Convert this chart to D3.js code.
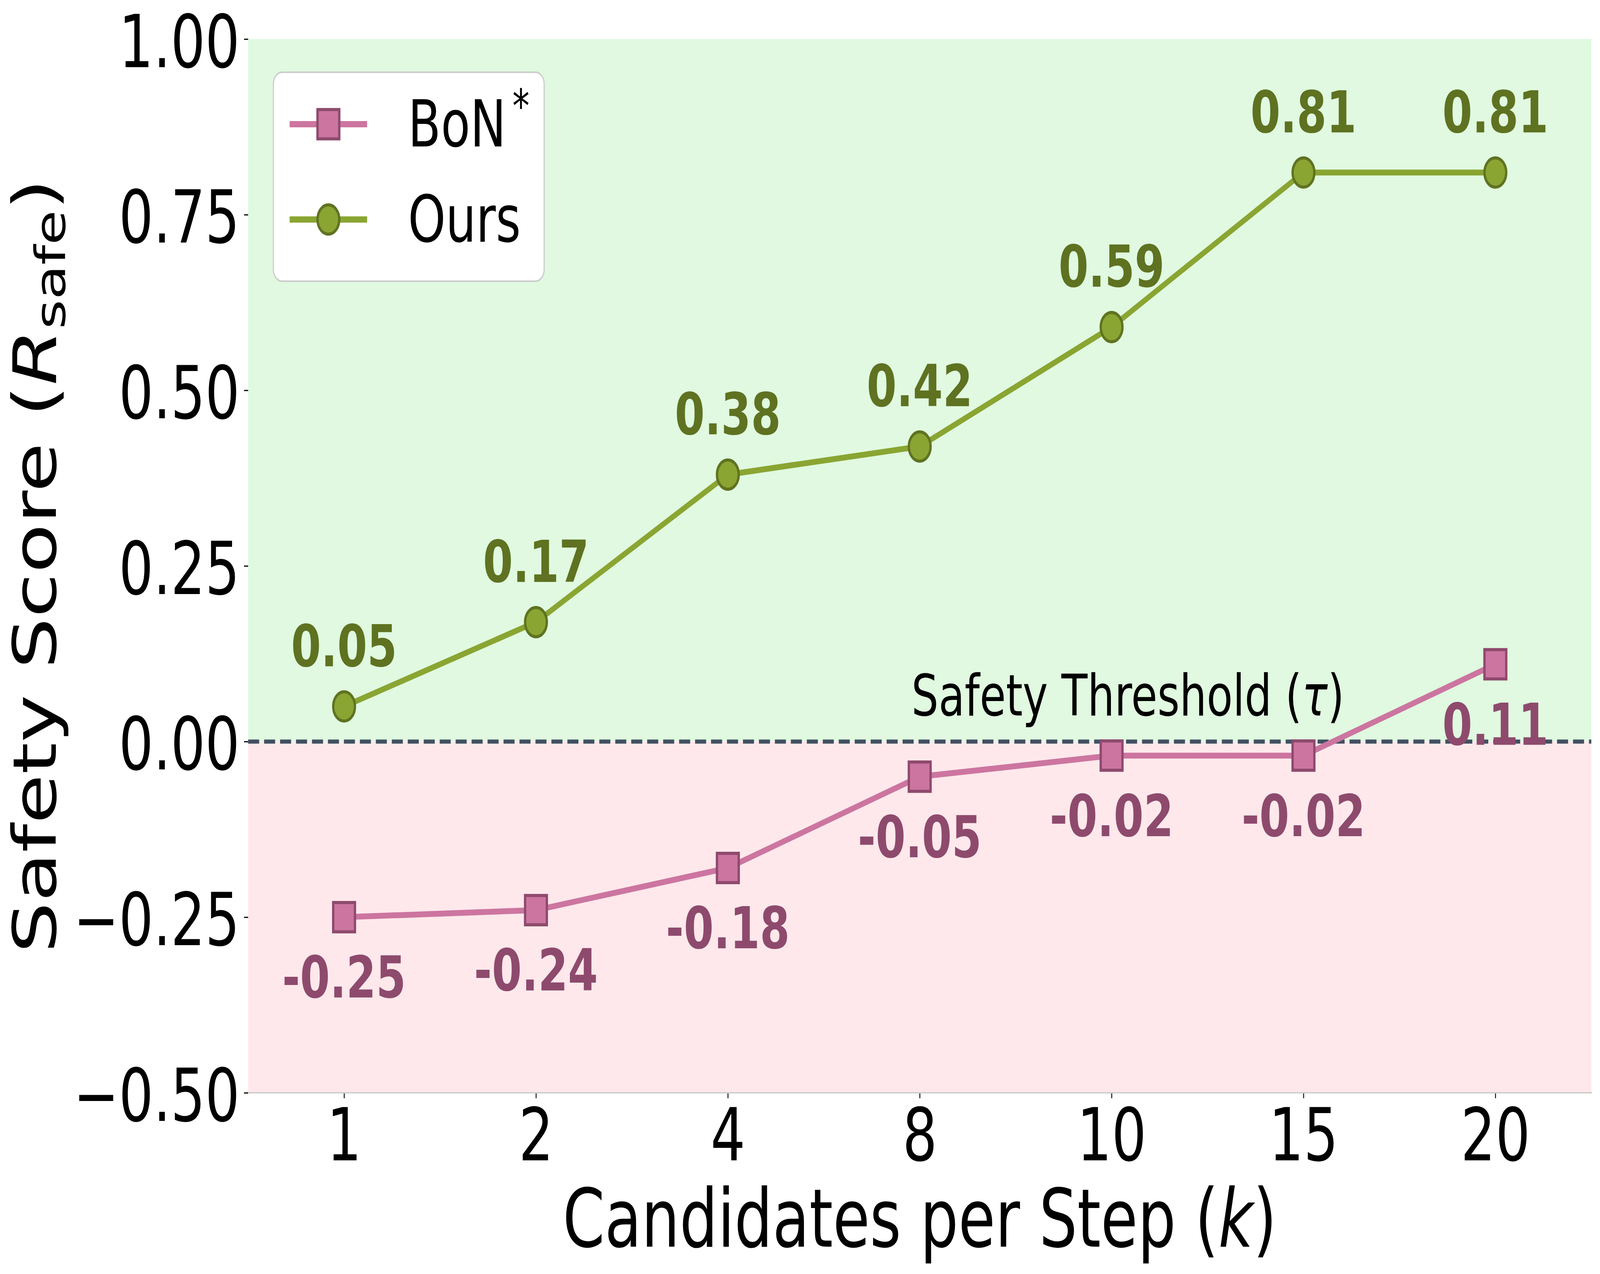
<!DOCTYPE html>
<html>
<head>
<meta charset="utf-8">
<script src="https://cdn.jsdelivr.net/npm/d3@7"></script>
<style>
  html, body { margin: 0; padding: 0; background: #fff; overflow: hidden; }
  svg { display: block; width: 100vw; height: 100vh; font-family: "DejaVu Sans", sans-serif; }
</style>
</head>
<body>
<svg id="chart" viewBox="0 0 5513 3262" preserveAspectRatio="none"></svg>
<script>
"use strict";

// values
var categories = ['1', '2', '4', '8', '10', '15', '20'];
var bonValues = [-0.25, -0.24, -0.18, -0.05, -0.02, -0.02, 0.11];
var oursValues = [0.05, 0.17, 0.38, 0.42, 0.59, 0.81, 0.81];
var yTicks = [-0.5, -0.25, 0, 0.25, 0.5, 0.75, 1.0];
var threshold = 0;

// the browser window is narrower than the figure, so the drawing is laid out
// in figure pixels and the viewBox stretches it onto the window
var svg = d3.select('#chart');
var W = 5513, H = 3262;
var margin = { top: 100, right: 30, bottom: 464, left: 855 };
var width = W - margin.left - margin.right;
var height = H - margin.top - margin.bottom;

var colors = {
	bonLine: '#cc75a0', bonEdge: '#8e4a6d', bonText: '#8e4a6d',
	oursLine: '#8aa532', oursEdge: '#5f7322', oursText: '#5e7221',
	safeBg: '#e0f9e0', unsafeBg: '#ffe8eb', thresh: '#415162'
};

var x = d3.scalePoint().domain(categories).range([0, width]).padding(0.5);
var y = d3.scaleLinear().domain([-0.5, 1.0]).range([height, 0]);

svg.append('rect').attr('width', W).attr('height', H).attr('fill', '#fff');
var g = svg.append('g')
	.attr('transform', 'translate(' + margin.left + ',' + margin.top + ')');

// safe / unsafe zones
g.append('rect')
	.attr('x', 0).attr('width', width)
	.attr('y', y(1.0)).attr('height', y(threshold) - y(1.0))
	.attr('fill', colors.safeBg);
g.append('rect')
	.attr('x', 0).attr('width', width)
	.attr('y', y(threshold)).attr('height', y(-0.5) - y(threshold))
	.attr('fill', colors.unsafeBg);

// axes
var xAxis = d3.axisBottom(x).tickSize(14).tickPadding(26);
var xg = g.append('g').attr('transform', 'translate(0,' + height + ')').call(xAxis);
xg.select('.domain').remove();
xg.selectAll('.tick line').attr('stroke', '#000').attr('stroke-width', 3);
xg.selectAll('.tick text')
	.attr('font-size', 188).attr('fill', '#000')
	.attr('font-family', 'DejaVu Sans');

var yAxis = d3.axisLeft(y).tickValues(yTicks).tickFormat(d3.format('.2f'))
	.tickSize(14).tickPadding(15);
var yg = g.append('g').call(yAxis);
yg.select('.domain').remove();
yg.selectAll('.tick line').attr('stroke', '#000').attr('stroke-width', 3);
yg.selectAll('.tick text')
	.attr('font-size', 187).attr('fill', '#000').attr('dy', '0.38em')
	.attr('font-family', 'DejaVu Sans');

// bottom spine
g.append('line')
	.attr('x1', 0).attr('x2', width + 3)
	.attr('y1', height).attr('y2', height)
	.attr('stroke', '#cccccc').attr('stroke-width', 3.5);

// threshold line
g.append('line')
	.attr('x1', 0).attr('x2', width)
	.attr('y1', y(threshold)).attr('y2', y(threshold))
	.attr('stroke', colors.thresh).attr('stroke-width', 10.5)
	.attr('stroke-dasharray', '38 17');

var thrText = g.append('text')
	.attr('x', x(categories[4]) + 56)
	.attr('y', y(threshold) - 67)
	.attr('text-anchor', 'middle')
	.attr('font-size', 147).attr('fill', '#000');
thrText.append('tspan').text('Safety Threshold (');
thrText.append('tspan').attr('font-style', 'italic').text('τ');
thrText.append('tspan').text(')');

var line = d3.line()
	.x(function(d, i) { return x(categories[i]); })
	.y(function(d) { return y(d); });

var MS = 75, EW = 8;

function drawSeries(values, lineColor, edgeColor, shape) {
	g.append('path')
		.datum(values)
		.attr('d', line)
		.attr('fill', 'none')
		.attr('stroke', lineColor)
		.attr('stroke-width', 15)
		.attr('stroke-linejoin', 'round');
	var pts = g.append('g').selectAll('.pt').data(values).enter();
	if (shape === 'square') {
		pts.append('rect')
			.attr('x', function(d, i) { return x(categories[i]) - MS / 2; })
			.attr('y', function(d) { return y(d) - MS / 2; })
			.attr('width', MS).attr('height', MS)
			.attr('fill', lineColor).attr('stroke', edgeColor).attr('stroke-width', EW);
	} else {
		pts.append('circle')
			.attr('cx', function(d, i) { return x(categories[i]); })
			.attr('cy', function(d) { return y(d); })
			.attr('r', MS / 2)
			.attr('fill', lineColor).attr('stroke', edgeColor).attr('stroke-width', EW);
	}
}

drawSeries(bonValues, colors.bonLine, colors.bonEdge, 'square');
drawSeries(oursValues, colors.oursLine, colors.oursEdge, 'circle');

// value labels
g.append('g').selectAll('text').data(oursValues).enter()
	.append('text')
	.attr('x', function(d, i) { return x(categories[i]); })
	.attr('y', function(d) { return y(d) - 103; })
	.attr('text-anchor', 'middle')
	.attr('font-size', 148).attr('font-weight', 'bold')
	.attr('fill', colors.oursText)
	.text(function(d) { return d.toFixed(2); });

g.append('g').selectAll('text').data(bonValues).enter()
	.append('text')
	.attr('x', function(d, i) { return x(categories[i]); })
	.attr('y', function(d) { return y(d) + 206; })
	.attr('text-anchor', 'middle')
	.attr('font-size', 148).attr('font-weight', 'bold')
	.attr('fill', colors.bonText)
	.text(function(d) { return d.toFixed(2); });

// axis labels
var xl = svg.append('text')
	.attr('x', margin.left + width / 2)
	.attr('y', 3192)
	.attr('text-anchor', 'middle')
	.attr('font-size', 207).attr('fill', '#000');
xl.append('tspan').text('Candidates per Step (');
xl.append('tspan').attr('font-style', 'italic').text('k');
xl.append('tspan').text(')');

var yl = svg.append('text')
	.attr('transform', 'translate(193,' + (margin.top + height / 2) + ') rotate(-90)')
	.attr('text-anchor', 'middle')
	.attr('font-size', 207).attr('fill', '#000');
yl.append('tspan').text('Safety Score (');
yl.append('tspan').attr('font-style', 'italic').text('R');
yl.append('tspan').attr('font-size', 145).attr('dy', 31).text('safe');
yl.append('tspan').attr('dy', -31).text(')');

// legend
var lg = svg.append('g');
lg.append('rect')
	.attr('x', 942).attr('y', 185)
	.attr('width', 933).attr('height', 535)
	.attr('rx', 30).attr('ry', 30)
	.attr('fill', '#fff').attr('stroke', '#cccccc').attr('stroke-width', 4);

var legendItems = [
	{ name: 'BoN', sup: '*', color: colors.bonLine, edge: colors.bonEdge, shape: 'square' },
	{ name: 'Ours', sup: null, color: colors.oursLine, edge: colors.oursEdge, shape: 'circle' }
];
var rowY = d3.scalePoint().domain(legendItems.map(function(d) { return d.name; }))
	.range([318, 562]);

legendItems.forEach(function(d) {
	var cy = rowY(d.name);
	lg.append('line')
		.attr('x1', 998).attr('x2', 1265).attr('y1', cy).attr('y2', cy)
		.attr('stroke', d.color).attr('stroke-width', 16);
	if (d.shape === 'square') {
		lg.append('rect')
			.attr('x', 1131.5 - MS / 2).attr('y', cy - MS / 2)
			.attr('width', MS).attr('height', MS)
			.attr('fill', d.color).attr('stroke', d.edge).attr('stroke-width', EW);
	} else {
		lg.append('circle')
			.attr('cx', 1131.5).attr('cy', cy).attr('r', MS / 2)
			.attr('fill', d.color).attr('stroke', d.edge).attr('stroke-width', EW);
	}
	var t = lg.append('text')
		.attr('x', 1406).attr('y', cy + 57)
		.attr('font-size', 165).attr('fill', '#000');
	t.append('tspan').text(d.name);
	if (d.sup) {
		t.append('tspan').attr('font-size', 118).attr('dx', 22).attr('dy', -62).text(d.sup);
	}
});
</script>
</body>
</html>
